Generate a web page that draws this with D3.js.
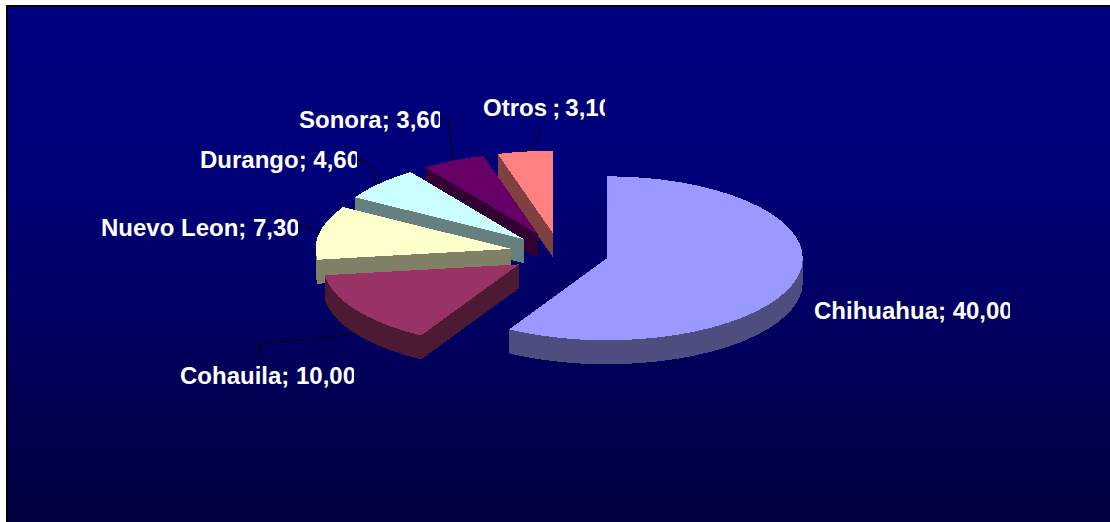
<!DOCTYPE html>
<html>
<head>
<meta charset="utf-8">
<script src="https://cdnjs.cloudflare.com/ajax/libs/d3/7.8.5/d3.min.js"></script>
<style>
  html, body { margin: 0; padding: 0; background: #fff; overflow: hidden; }
  text { font-family: "Liberation Sans", Arial, sans-serif; font-weight: bold; font-size: 24px; fill: #fff; }
</style>
</head>
<body>
<div id="chart"></div>
<script>
// chart data
const states = ["Chihuahua", "Cohauila", "Nuevo Leon", "Durango", "Sonora", "Otros "];
const values = [40, 10, 7.3, 4.6, 3.6, 3.1];
const topColors = ["#9999ff", "#993366", "#ffffcc", "#ccffff", "#660066", "#ff8080"];
const sideColors = ["#4d4d80", "#4d1a33", "#808066", "#668080", "#330033", "#804040"];

// label layout, same order as states: text start, baseline, clip edge, leader elbow + end
const labelX = [814, 180, 101, 200, 299, 483];
const labelY = [319, 384, 236, 168, 128, 116];
const labelClip = [1010, 354, 298, 357, 440, 605];
const labelWordGap = [0, 0, 0, 0, 0, -1.5];
const leaderElbow = [null, [259, 344], [305, 227], [365, 160], [448, 119], [539, 139]];
const leaderEnd = [null, [259, 355], [298, 227], [357, 160], [440, 119], [539, 128]];

// declare chart constants
const WIDTH = 1110;
const HEIGHT = 522;
const CENTERX = 559.5;
const CENTERY = 253;
const RADIUSX = 196;
const RADIUSY = 82;
const DEPTH = 24;
const EXPLODE = 0.25;

const svg = d3
  .select("#chart")
  .append("svg")
  .attr("width", WIDTH)
  .attr("height", HEIGHT)
  .style("display", "block");

// background gradient
const grad = svg
  .append("defs")
  .append("linearGradient")
  .attr("id", "bg")
  .attr("x1", 0)
  .attr("y1", 0)
  .attr("x2", 0)
  .attr("y2", 1);
grad.append("stop").attr("offset", "0").attr("stop-color", "#000080");
grad.append("stop").attr("offset", "0.35").attr("stop-color", "#000078");
grad.append("stop").attr("offset", "1").attr("stop-color", "#00003f");

svg
  .append("rect")
  .attr("x", 7)
  .attr("y", 6)
  .attr("width", WIDTH - 7)
  .attr("height", HEIGHT - 6)
  .attr("fill", "url(#bg)")
  .attr("stroke", "none");

// black edge on the top and left only
svg
  .append("path")
  .attr("d", `M7,${HEIGHT}V6H${WIDTH}`)
  .attr("fill", "none")
  .attr("stroke", "#000")
  .attr("stroke-width", 2);

// squashed circle: unit coordinates to screen
const scaleX = d3.scaleLinear().domain([-1, 1]).range([CENTERX - RADIUSX, CENTERX + RADIUSX]);
const scaleY = d3.scaleLinear().domain([-1, 1]).range([CENTERY - RADIUSY, CENTERY + RADIUSY]);

const pie = d3.pie().sort(null);
const slices = pie(values);
const line = d3.line();

// unit point on the rim, angle clockwise from 12 o'clock
function rim(angle, r) {
  return [r * Math.sin(angle), -r * Math.cos(angle)];
}

function toScreen(p, mid, drop) {
  const off = rim(mid, EXPLODE);
  return [scaleX(p[0] + off[0]), scaleY(p[1] + off[1]) + drop];
}

// outline of a slice, apex first then the rim
function outline(d) {
  const mid = (d.startAngle + d.endAngle) / 2;
  const steps = Math.max(2, Math.ceil((d.endAngle - d.startAngle) / 0.1));
  const pts = [toScreen([0, 0], mid, 0)];
  d3.range(steps + 1).forEach(function (i) {
    const a = d.startAngle + ((d.endAngle - d.startAngle) * i) / steps;
    pts.push(toScreen(rim(a, 1), mid, 0));
  });
  return pts;
}

// back slices first, the big slice goes on last
const order = d3.range(slices.length).reverse();
const pieG = svg.append("g").attr("shape-rendering", "crispEdges");

order.forEach(function (i) {
  const pts = outline(slices[i]);
  const g = pieG.append("g").attr("class", "slice");
  // sweep every outline edge down to make the walls
  pts.forEach(function (p, k) {
    const q = pts[(k + 1) % pts.length];
    g.append("path")
      .attr("d", line([p, q, [q[0], q[1] + DEPTH], [p[0], p[1] + DEPTH]]) + "Z")
      .attr("fill", sideColors[i]);
  });
  g.append("path")
    .attr("d", line(pts) + "Z")
    .attr("fill", topColors[i]);
});

// leader lines, from the rim at the middle of the slice
slices.forEach(function (d, i) {
  if (!leaderElbow[i]) return;
  const mid = (d.startAngle + d.endAngle) / 2;
  // front slices start from the bottom of the wall
  const drop = Math.cos(mid) < 0 ? DEPTH : 0;
  const start = toScreen(rim(mid, 1), mid, drop);
  svg
    .append("path")
    .attr("d", line([start, leaderElbow[i], leaderEnd[i]]))
    .attr("fill", "none")
    .attr("stroke", "#000")
    .attr("stroke-width", 1);
});

// labels get cut off on the right like the original
const defs = svg.select("defs");
states.forEach(function (name, i) {
  defs
    .append("clipPath")
    .attr("id", "clip" + i)
    .append("rect")
    .attr("x", labelX[i] - 5)
    .attr("y", labelY[i] - 30)
    .attr("width", labelClip[i] - labelX[i] + 5)
    .attr("height", 40);
  svg
    .append("text")
    .attr("x", labelX[i])
    .attr("y", labelY[i])
    .attr("clip-path", `url(#clip${i})`)
    .style("word-spacing", labelWordGap[i] + "px")
    .text(`${name}; ${values[i].toFixed(2).replace(".", ",")}`);
});
</script>
</body>
</html>
